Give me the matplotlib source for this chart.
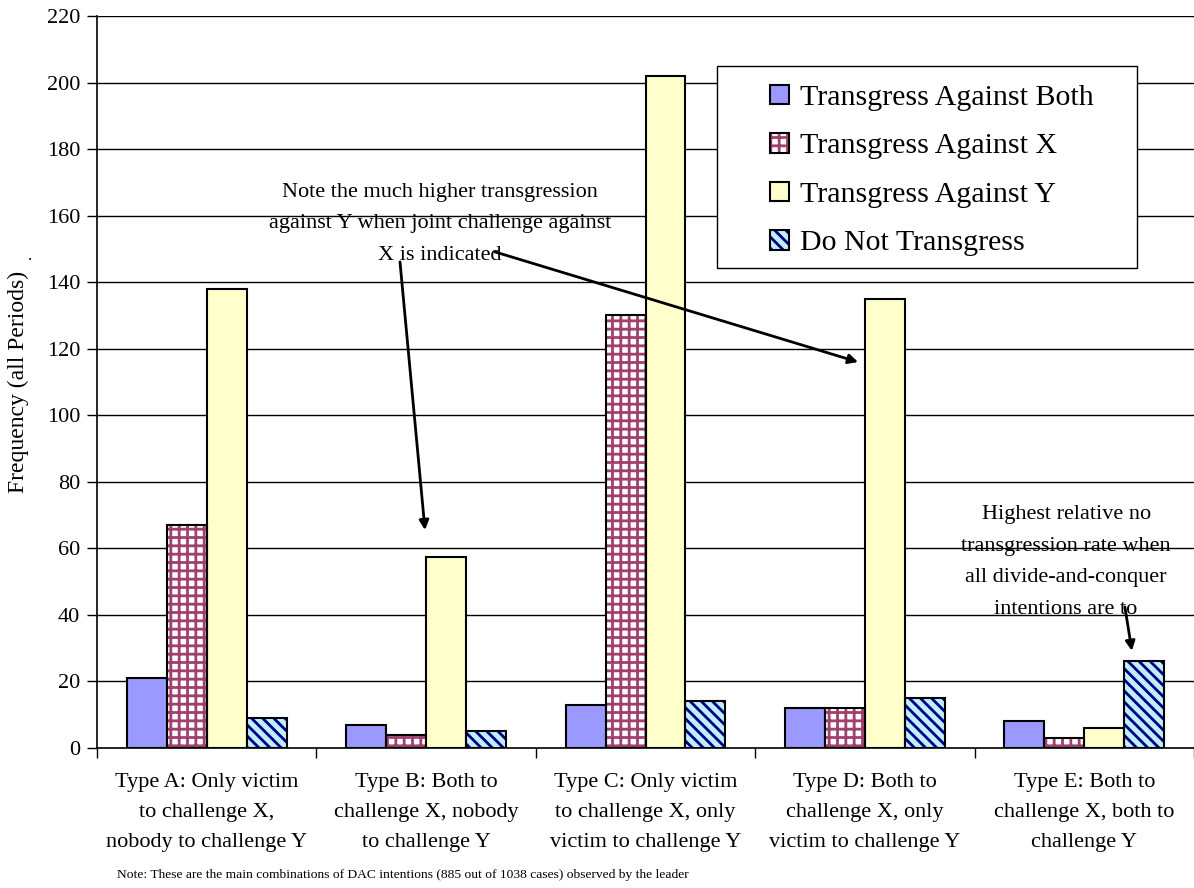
import numpy as np
import matplotlib
matplotlib.use("Agg")
import matplotlib.pyplot as plt
from matplotlib.patches import Rectangle
from matplotlib.legend_handler import HandlerTuple

plt.rcParams['font.family'] = ['Liberation Serif', 'DejaVu Serif']

categories = [
    "Type A: Only victim\nto challenge X,\nnobody to challenge Y",
    "Type B: Both to\nchallenge X, nobody\nto challenge Y",
    "Type C: Only victim\nto challenge X, only\nvictim to challenge Y",
    "Type D: Both to\nchallenge X, only\nvictim to challenge Y",
    "Type E: Both to\nchallenge X, both to\nchallenge Y",
]
series_names = ["Transgress Against Both", "Transgress Against X",
                "Transgress Against Y", "Do Not Transgress"]
against_both = [21, 7, 13, 12, 8]
against_x = [67, 4, 130, 12, 3]
against_y = [138, 57.5, 202, 135, 6]
no_transgress = [9, 5, 14, 15, 26]
yticks = list(range(0, 221, 20))

# face colour, hatch, hatch colour
styles = [
    ("#9999FF", None, "#9999FF"),
    ("#FFFFFF", "++", "#A0406F"),
    ("#FFFFCC", None, "#FFFFCC"),
    ("#BFEFFF", "\\\\\\", "#000080"),
]

plt.rcParams['hatch.linewidth'] = 2.0

fig = plt.figure(figsize=(11.94, 8.88), dpi=100)
ax = fig.add_axes([97 / 1194, 1 - 748 / 888, 1097 / 1194, 732 / 888])

x = np.arange(len(categories))
w = 0.182
handles = []
for i, vals in enumerate([against_both, against_x, against_y, no_transgress]):
    fc, hatch, hc = styles[i]
    pos = x + (i - 1.5) * w
    # hatch layer first, then a black outline on top
    b1 = ax.bar(pos, vals, w, color=fc, edgecolor=hc, hatch=hatch, linewidth=0, zorder=2)
    b2 = ax.bar(pos, vals, w, fill=False, edgecolor='black', linewidth=1.5, zorder=3)
    handles.append((b1.patches[0], b2.patches[0]))

ax.set_xlim(-0.5, 4.5)
ax.set_ylim(0, 220)
ax.set_yticks(yticks)
ax.set_yticklabels([str(v) for v in yticks], fontsize=16)
ax.tick_params(axis='y', direction='out', length=7, width=1, pad=5)
ax.set_xticks(x)
ax.set_xticklabels(categories, fontsize=16, linespacing=1.78)
ax.tick_params(axis='x', which='major', length=0, pad=18)
ax.set_xticks(np.arange(-0.5, 4.6, 1), minor=True)
ax.tick_params(axis='x', which='minor', direction='out', length=7, width=1)

for y in yticks[1:]:
    ax.axhline(y, color='black', linewidth=1, zorder=1)
for s in ['top', 'right']:
    ax.spines[s].set_visible(False)
for s in ['left', 'bottom']:
    ax.spines[s].set_linewidth(1.2)
    ax.spines[s].set_zorder(4)

# legend box
box = Rectangle((0.565, 0.6557), 0.3829, 0.276, transform=ax.transAxes,
                facecolor='white', edgecolor='black', linewidth=1, zorder=5)
ax.add_patch(box)
leg = ax.legend(handles, series_names, loc='center', bbox_to_anchor=(0.7607, 0.789),
                fontsize=21.5, frameon=False, handlelength=0.64, handleheight=0.64,
                handletextpad=0.37, labelspacing=0.74,
                handler_map={tuple: HandlerTuple(ndivide=1)})
leg.set_zorder(6)

# annotations
ax.text(1.063, 157.5, "Note the much higher transgression\nagainst Y when joint challenge against\nX is indicated",
        ha='center', va='center', fontsize=16, linespacing=1.9, zorder=4)
arrow = dict(arrowstyle='-|>', color='black', lw=2, mutation_scale=14, shrinkA=0, shrinkB=0)
ax.annotate("", xy=(0.995, 65.5), xytext=(0.881, 146.1), arrowprops=arrow, zorder=4)
ax.annotate("", xy=(2.969, 116.0), xytext=(1.314, 149.1), arrowprops=arrow, zorder=4)

ax.text(3.917, 55.9, "Highest relative no\ntransgression rate when\nall divide-and-conquer\nintentions are to",
        ha='center', va='center', fontsize=16, linespacing=1.9, zorder=4)
ax.annotate("", xy=(4.217, 29.2), xytext=(4.185, 42.4), arrowprops=arrow, zorder=4)

fig.text(18 / 1194, 1 - 382 / 888, "Frequency (all Periods)", rotation=90,
         ha='center', va='center', fontsize=17)
fig.text(30 / 1194, 1 - 256 / 888, ".", ha='center', va='center', fontsize=12)
fig.text(117 / 1194, 1 - 875 / 888,
         "Note: These are the main combinations of DAC intentions (885 out of 1038 cases) observed by the leader",
         ha='left', va='center', fontsize=9.7)

fig.savefig("out.png", dpi=100)
